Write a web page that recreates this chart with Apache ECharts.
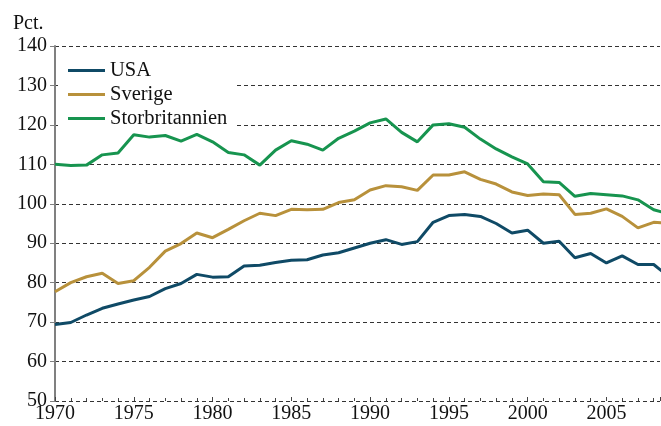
<!DOCTYPE html>
<html><head><meta charset="utf-8">
<script src="https://cdn.jsdelivr.net/npm/echarts@6/dist/echarts.min.js"></script>
<style>html,body{margin:0;padding:0;background:#fff}#c{width:661px;height:426px}</style>
</head><body><div id="c"></div>
<script>
const years = [1970,1971,1972,1973,1974,1975,1976,1977,1978,1979,1980,1981,1982,1983,1984,1985,1986,1987,1988,1989,1990,1991,1992,1993,1994,1995,1996,1997,1998,1999,2000,2001,2002,2003,2004,2005,2006,2007,2008,2009];
const usa = [69.4,69.9,71.8,73.5,74.6,75.6,76.5,78.5,79.8,82.1,81.4,81.5,84.2,84.4,85.1,85.7,85.8,87.0,87.6,88.8,90.0,90.9,89.7,90.4,95.3,97.0,97.3,96.8,95.0,92.6,93.3,90.0,90.5,86.3,87.4,85.0,86.8,84.6,84.6,81.4];
const sverige = [77.7,80.0,81.5,82.4,79.8,80.5,83.9,88.0,89.9,92.6,91.4,93.5,95.7,97.6,97.0,98.6,98.5,98.6,100.3,101.0,103.5,104.6,104.3,103.4,107.3,107.3,108.1,106.2,105.0,103.0,102.1,102.5,102.3,97.3,97.6,98.7,96.8,93.9,95.3,95.0];
const storbritannien = [110.0,109.7,109.8,112.4,112.9,117.5,116.9,117.3,115.9,117.6,115.7,113.0,112.4,109.8,113.6,116.0,115.1,113.6,116.6,118.4,120.5,121.5,118.1,115.7,120.0,120.3,119.4,116.4,113.9,111.9,110.1,105.6,105.4,101.9,102.6,102.3,102.0,101.0,98.5,97.4];
const seriesNames = ['USA','Sverige','Storbritannien'];
const yTicks = {min:50, max:140, step:10};
const xRange = {min:1970, max:2008.4, step:5};

const colors = ['#0f4a66','#b8913b','#17944f'];
const font = 'Liberation Serif, Times New Roman, serif';
const pair = (arr) => years.map((y,i)=>[y,arr[i]]);
const chart = echarts.init(document.getElementById('c'));
chart.setOption({
  animation:false,
  backgroundColor:'#fff',
  title:{text:'Pct.', left:8, top:9, textStyle:{fontFamily:font, fontSize:20, fontWeight:'normal', color:'#111'}},
  grid:{left:55, right:1, top:46, bottom:25, containLabel:false},
  legend:{
    orient:'vertical', left:58, top:56, itemGap:3, itemWidth:37, itemHeight:3,
    icon:'rect', backgroundColor:'#fff', padding:[4,8,4,10],
    textStyle:{fontFamily:font, fontSize:20.5, color:'#111'},
    data:seriesNames
  },
  xAxis:{
    type:'value', min:xRange.min, max:xRange.max, interval:xRange.step,
    axisLine:{show:false},
    axisTick:{show:true, inside:true, length:4, lineStyle:{color:'#444'}},
    minorTick:{show:true, splitNumber:5, length:3, lineStyle:{color:'#444'}},
    axisLabel:{fontFamily:font, fontSize:20, color:'#111', margin:3, showMaxLabel:false, formatter:v=>String(v)},
    splitLine:{show:false}
  },
  yAxis:{
    type:'value', min:yTicks.min, max:yTicks.max, interval:yTicks.step,
    axisLine:{show:true, lineStyle:{color:'#808080', width:2}},
    axisTick:{show:true, length:5, lineStyle:{color:'#808080'}},
    axisLabel:{fontFamily:font, fontSize:20, color:'#111', margin:8},
    splitLine:{show:true, lineStyle:{color:'#333', type:[4,3], width:1}}
  },
  series:[
    {name:seriesNames[0], type:'line', data:pair(usa), symbol:'none', lineStyle:{width:3, color:colors[0]}, itemStyle:{color:colors[0]}, clip:true},
    {name:seriesNames[1], type:'line', data:pair(sverige), symbol:'none', lineStyle:{width:3, color:colors[1]}, itemStyle:{color:colors[1]}, clip:true},
    {name:seriesNames[2], type:'line', data:pair(storbritannien), symbol:'none', lineStyle:{width:3, color:colors[2]}, itemStyle:{color:colors[2]}, clip:true}
  ]
});
</script></body></html>
